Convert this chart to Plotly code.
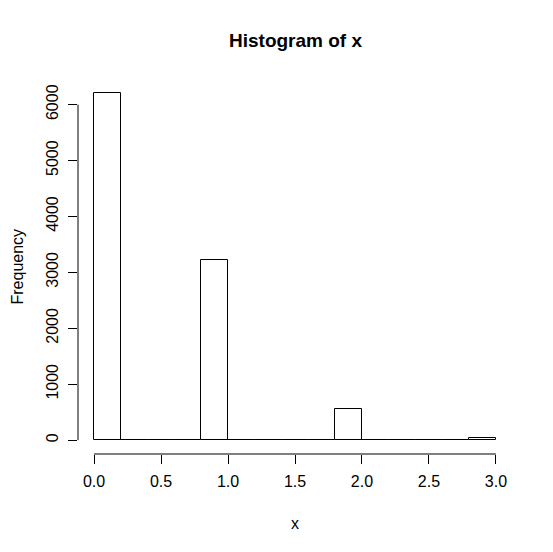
import plotly.graph_objects as go

bin_edges = [round(0.2 * i, 1) for i in range(16)]
counts = [6210, 0, 0, 0, 3220, 0, 0, 0, 0, 550, 0, 0, 0, 0, 30]
x_ticks = [0.0, 0.5, 1.0, 1.5, 2.0, 2.5, 3.0]
x_tick_text = ["0.0", "0.5", "1.0", "1.5", "2.0", "2.5", "3.0"]
y_ticks = [0, 1000, 2000, 3000, 4000, 5000, 6000]

centers = [(bin_edges[i] + bin_edges[i + 1]) / 2 for i in range(len(counts))]
widths = [bin_edges[i + 1] - bin_edges[i] for i in range(len(counts))]

FONT = "Liberation Sans, Arial, sans-serif"

fig = go.Figure()
fig.add_trace(go.Bar(
    x=centers, y=counts, width=widths,
    marker=dict(color="white", line=dict(color="black", width=1)),
    hoverinfo="skip",
))

xmin, xmax = 0.0, 3.0
ymax = max(counts)
xr = [xmin - 0.04 * (xmax - xmin), xmax + 0.04 * (xmax - xmin)]
yr = [-0.04 * ymax, ymax * 1.04]

fig.update_layout(
    width=553, height=552,
    margin=dict(l=78, r=41, t=79, b=98),
    paper_bgcolor="white", plot_bgcolor="white",
    showlegend=False,
    font=dict(family=FONT, size=16, color="black"),
    bargap=0,
    xaxis=dict(range=xr, tickvals=x_ticks, ticktext=x_tick_text,
               ticks="outside", ticklen=9, tickwidth=1, tickcolor="black",
               showgrid=False, zeroline=False, showline=False,
               tickfont=dict(size=16), ticklabelstandoff=4),
    yaxis=dict(range=yr, tickvals=y_ticks,
               ticks="outside", ticklen=9, tickwidth=1, tickcolor="black",
               showgrid=False, zeroline=False, showline=False,
               tickangle=-90, tickfont=dict(size=16), ticklabelstandoff=4),
    shapes=[
        dict(type="line", xref="x", yref="paper", x0=x_ticks[0], x1=x_ticks[-1], y0=0, y1=0,
             line=dict(color="black", width=1)),
        dict(type="line", xref="paper", yref="y", x0=0, x1=0, y0=y_ticks[0], y1=y_ticks[-1],
             line=dict(color="black", width=1)),
    ],
    annotations=[
        dict(text="<b>Histogram of x</b>", xref="paper", yref="paper", x=0.5, y=1,
             yshift=39, showarrow=False, xanchor="center", yanchor="middle",
             font=dict(size=19, family=FONT)),
        dict(text="x", xref="paper", yref="paper", x=0.5, y=0, yshift=-69,
             showarrow=False, xanchor="center", yanchor="middle", font=dict(size=16)),
        dict(text="Frequency", xref="paper", yref="paper", x=0, y=0.5, xshift=-61,
             textangle=-90, showarrow=False, xanchor="center", yanchor="middle",
             font=dict(size=16)),
    ],
)

fig.write_html("out.html")
